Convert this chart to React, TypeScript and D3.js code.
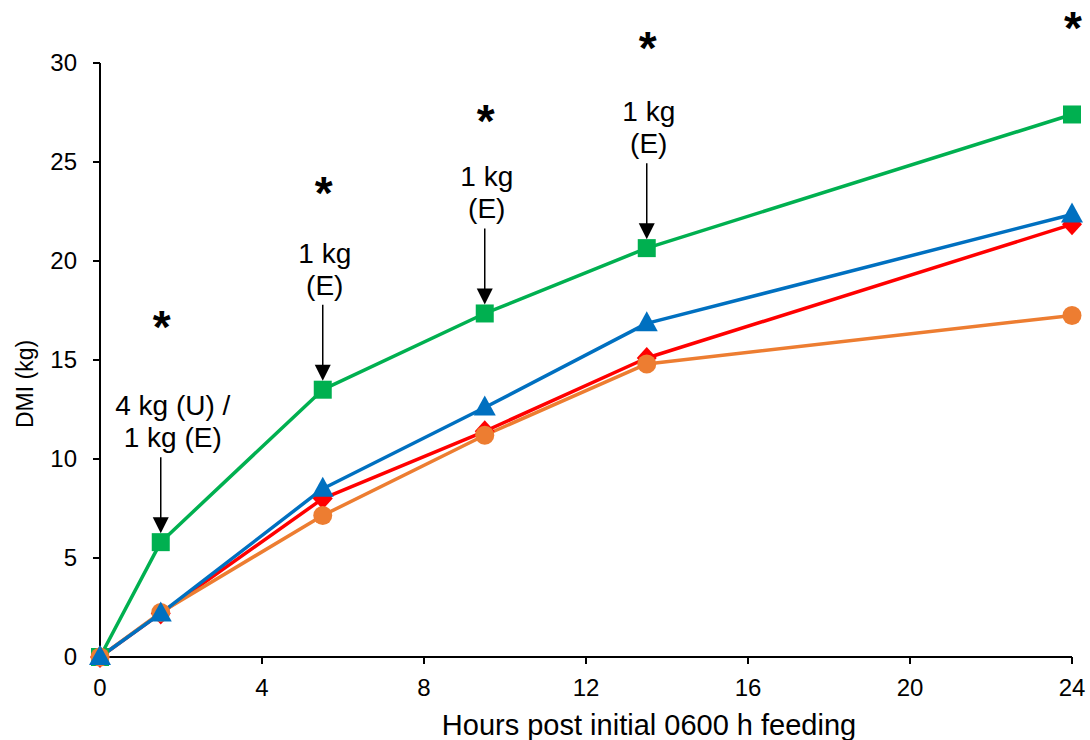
import React from "react";
import * as d3 from "d3";

// Cumulative dry matter intake (kg) at each sampling hour
const hours = [0, 1.5, 5.5, 9.5, 13.5, 24];
const greenSeries = [0, 5.8, 13.5, 17.35, 20.65, 27.4];
const redSeries = [0, 2.2, 8.0, 11.4, 15.1, 21.85];
const orangeSeries = [0, 2.25, 7.15, 11.2, 14.8, 17.25];
const blueSeries = [0, 2.2, 8.5, 12.6, 16.85, 22.35];

const xTicks = [0, 4, 8, 12, 16, 20, 24];
const yTicks = [0, 5, 10, 15, 20, 25, 30];

// Feeding events marked above the green curve
const feedHours = [1.5, 5.5, 9.5, 13.5];
const feedLabels = [["4 kg (U) /", "1 kg (E)"], ["1 kg", "(E)"], ["1 kg", "(E)"], ["1 kg", "(E)"]];
// Significance markers (hour, DMI level)
const sigHours = [1.5, 5.5, 9.5, 13.5, 24];
const sigLevels = [16.9, 23.7, 27.3, 31.0, 32.0];

const W = 1090;
const H = 740;
const FONT = "Liberation Sans, Arial, sans-serif";

type Series = { values: number[]; color: string; marker: "square" | "diamond" | "circle" | "triangle" };

const seriesList: Series[] = [
  { values: greenSeries, color: "#00B050", marker: "square" },
  { values: redSeries, color: "#FF0000", marker: "diamond" },
  { values: orangeSeries, color: "#ED7D31", marker: "circle" },
  { values: blueSeries, color: "#0070C0", marker: "triangle" },
];

function Marker({ kind, x, y, color }: { kind: Series["marker"]; x: number; y: number; color: string }) {
  if (kind === "square") return <rect x={x - 9} y={y - 9} width={18} height={18} fill={color} />;
  if (kind === "circle") return <circle cx={x} cy={y} r={9.5} fill={color} />;
  if (kind === "diamond") return <path d={`M${x},${y - 11}L${x + 10},${y}L${x},${y + 11}L${x - 10},${y}Z`} fill={color} />;
  return <path d={`M${x},${y - 12}L${x + 11},${y + 8}L${x - 11},${y + 8}Z`} fill={color} />;
}

export default function App() {
  const x = d3.scaleLinear().domain([0, 24]).range([100, 1072]);
  const y = d3.scaleLinear().domain([0, 30]).range([657, 63]);
  const line = d3
    .line<number>()
    .x((_, i) => x(hours[i]))
    .y((v) => y(v));

  return (
    <svg width={W} height={H} style={{ position: "absolute", left: 0, top: 0, background: "#fff" }} fontFamily={FONT}>
      {/* axes */}
      <line x1={100} x2={100} y1={y(30)} y2={y(0)} stroke="#000" strokeWidth={2} />
      <line x1={100} x2={x(24)} y1={y(0)} y2={y(0)} stroke="#000" strokeWidth={2} />
      {yTicks.map((t) => (
        <g key={"y" + t}>
          <line x1={93} x2={100} y1={y(t)} y2={y(t)} stroke="#000" strokeWidth={2} />
          <text x={77} y={y(t) + 8} fontSize={24} textAnchor="end" fill="#000">
            {t}
          </text>
        </g>
      ))}
      {xTicks.map((t) => (
        <g key={"x" + t}>
          <line x1={x(t)} x2={x(t)} y1={y(0)} y2={y(0) + 7} stroke="#000" strokeWidth={2} />
          <text x={x(t)} y={696} fontSize={24} textAnchor="middle" fill="#000">
            {t}
          </text>
        </g>
      ))}
      <text x={649} y={735} fontSize={29} textAnchor="middle" fill="#000">
        Hours post initial 0600 h feeding
      </text>
      <text transform={`translate(33,384) rotate(-90)`} fontSize={23} textAnchor="middle" fill="#000">
        DMI (kg)
      </text>

      {/* series lines */}
      {seriesList.map((s, k) => (
        <path key={"l" + k} d={line(s.values) || ""} fill="none" stroke={s.color} strokeWidth={3.5} strokeLinejoin="round" />
      ))}
      {/* series markers */}
      {seriesList.map((s, k) => (
        <g key={"m" + k}>
          {s.values.map((v, i) => (
            <Marker key={i} kind={s.marker} x={x(hours[i])} y={y(v)} color={s.color} />
          ))}
        </g>
      ))}

      {/* feeding annotations */}
      {feedHours.map((h, i) => {
        const idx = hours.indexOf(h);
        const my = y(greenSeries[idx]);
        const lines = feedLabels[i];
        const lastBase = my - 95;
        const firstBase = lastBase - 32 * (lines.length - 1);
        const cx = x(h) + (i === 0 ? 12 : 2);
        return (
          <g key={"a" + i}>
            {lines.map((t, j) => (
              <text key={j} x={cx} y={firstBase + 32 * j} fontSize={28} textAnchor="middle" fill="#000">
                {t}
              </text>
            ))}
            <line x1={x(h)} x2={x(h)} y1={lastBase + 10} y2={my - 24} stroke="#000" strokeWidth={1.5} />
            <path d={`M${x(h) - 8},${my - 25}L${x(h) + 8},${my - 25}L${x(h)},${my - 9}Z`} fill="#000" />
          </g>
        );
      })}

      {/* significance asterisks */}
      {sigHours.map((h, i) => (
        <text key={"s" + i} x={x(h) + 1} y={y(sigLevels[i]) + 21} fontSize={46} fontWeight="bold" textAnchor="middle" fill="#000">
          *
        </text>
      ))}
    </svg>
  );
}
